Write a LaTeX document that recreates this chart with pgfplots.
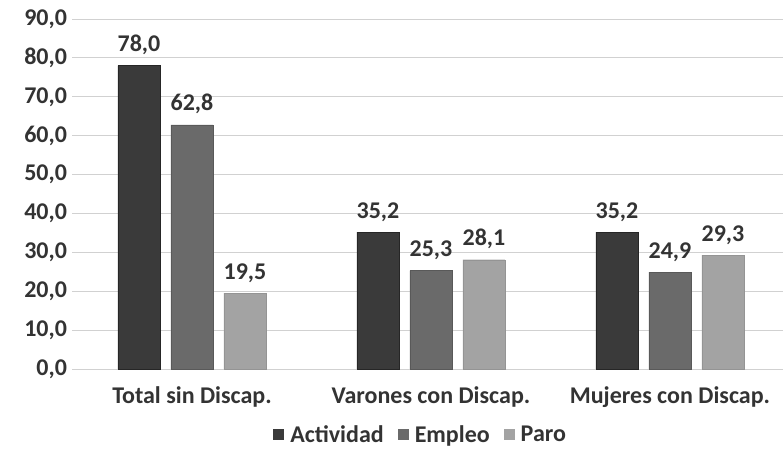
\documentclass[border=0pt]{standalone}
\usepackage{pgfplots}
\pgfplotsset{compat=1.18}
\usepackage{fontspec}
\setmainfont{Carlito}
\definecolor{cAct}{HTML}{3A3A3A}
\definecolor{cEmp}{HTML}{6A6A6A}
\definecolor{cPar}{HTML}{A3A3A3}
\begin{document}
\begin{tikzpicture}
\path[use as bounding box] (-72.5pt,-80pt) rectangle (710.5pt,369pt);
\begin{axis}[
  at={(0pt,0pt)}, anchor=south west,
  scale only axis, width=710.5pt, height=350pt,
  ybar=11pt, bar width=42pt,
  xmin=-0.5, xmax=2.473, ymin=0, ymax=90,
  xtick={0,1,2},
  xticklabels={Total sin Discap., Varones con Discap., Mujeres con Discap.},
  ytick={0,10,...,90},
  axis line style={draw=none},
  major tick length=0pt,
  ymajorgrids, grid style={black!18, line width=0.8pt},
  /pgf/number format/.cd, fixed, fixed zerofill, precision=1, use comma, assume math mode=true,
  /pgfplots/.cd,
  tick label style={font=\fontsize{24}{26}\selectfont\bfseries, text=black!80},
  yticklabel style={xshift=-2pt},
  xticklabel style={yshift=-14pt},
  nodes near coords,
  nodes near coords style={font=\fontsize{24}{26}\selectfont\bfseries, text=black!80, yshift=7pt},
  legend columns=3,
  legend style={draw=none, fill=none, at={(0.49,-0.187)}, anchor=center, font=\fontsize{24}{26}\selectfont\bfseries, text=black!80,
    /tikz/every odd column/.append style={column sep=4pt},
    /tikz/every even column/.append style={column sep=12pt}},
  legend image code/.code={\draw[#1, draw=none] (0pt,-5.5pt) rectangle (11pt,5.5pt);},
]
\addplot[fill=cAct, draw=black!85] coordinates {(0,78.0) (1,35.2) (2,35.2)};
\addplot[fill=cEmp, draw=black!65] coordinates {(0,62.8) (1,25.3) (2,24.9)};
\addplot[fill=cPar, draw=black!42] coordinates {(0,19.5) (1,28.1) (2,29.3)};
\legend{Actividad, Empleo, Paro}
\end{axis}
\end{tikzpicture}
\end{document}
